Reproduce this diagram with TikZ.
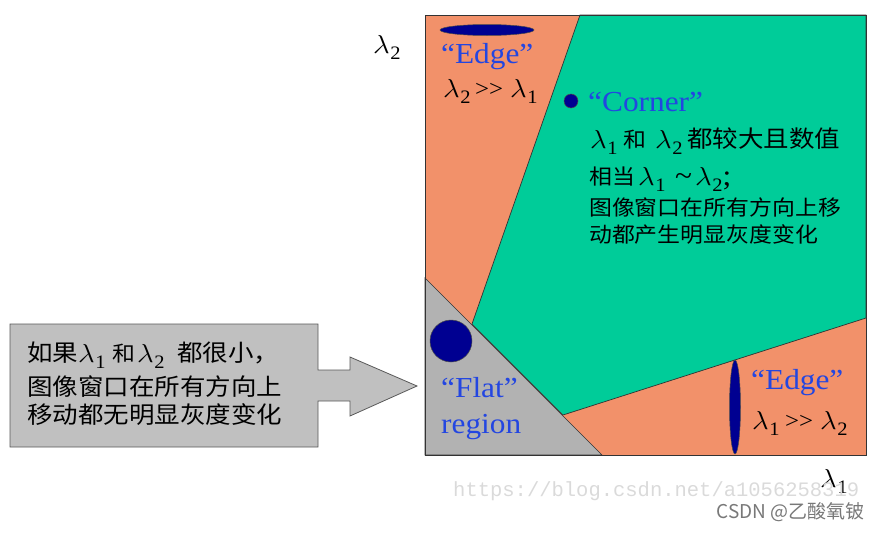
\RequirePackage{fix-cm}
\documentclass[tikz,border=0pt]{standalone}
\usepackage{fontspec}
\usepackage{graphicx}
\usetikzlibrary{shapes.geometric}
\setmainfont{Liberation Serif}
\newfontfamily\lserif[FakeStretch=1.08]{Liberation Serif}
\newfontfamily\cjk[FakeStretch=1.09]{Noto Sans CJK SC}
\newfontfamily\cjkplain{Noto Sans CJK SC}
\newfontfamily\wmmono{Liberation Mono}
\newcommand\lam[1]{\mbox{\fontsize{26}{30}\selectfont\scalebox{1.12}[1]{$\lambda$}\kern0.5pt\raisebox{-6pt}{\lserif\fontsize{19}{22}\selectfont #1}}}
\newcommand\gtgt{\lserif\fontsize{23}{28}\selectfont >\kern0pt>}
\definecolor{orng}{RGB}{242,145,106}
\definecolor{grn}{RGB}{0,204,153}
\definecolor{flatgray}{RGB}{178,178,178}
\definecolor{boxgray}{RGB}{192,192,192}
\definecolor{navy}{RGB}{0,0,145}
\definecolor{lblue}{RGB}{35,70,225}
\definecolor{wmlight}{RGB}{218,218,218}
\definecolor{wmdark}{RGB}{120,120,120}
\tikzset{
  region/.style={draw=black!80, line width=0.7pt},
  blob/.style={fill=navy, draw=black!70, line width=0.5pt},
  txt/.style={inner sep=0pt, anchor=base west, font=\lserif\fontsize{29}{34}\selectfont},
  bluetxt/.style={txt, text=lblue},
  cn/.style={inner sep=0pt, anchor=base west, font=\cjk\fontsize{23.4}{28}\selectfont},
  cnsmall/.style={inner sep=0pt, anchor=base west, font=\cjk\fontsize{21}{25}\selectfont}
}
\begin{document}
\begin{tikzpicture}[x=1pt,y=-1pt]
\useasboundingbox (0,0) rectangle (881,538);
% main square corners
\coordinate (TL) at (425,15);
\coordinate (TR) at (866,15);
\coordinate (BR) at (866,455);
\coordinate (BL) at (425,455);
\coordinate (g1) at (580,15);
\coordinate (g2) at (866,318);
\coordinate (g3) at (563,415);
\coordinate (g4) at (472,324);
\coordinate (f1) at (425,278);
\coordinate (f2) at (602,455);
% regions
\fill[orng] (TL) rectangle (BR);
\filldraw[fill=grn, region] (g1) -- (TR) -- (g2) -- (g3) -- (g4) -- cycle;
\filldraw[fill=flatgray, region] (f1) -- (BL) -- (f2) -- cycle;
\draw[region] (TL) rectangle (BR);
% blobs
\node[blob, ellipse, minimum width=94pt, minimum height=11pt, inner sep=0pt] (eh) at (487,30) {};
\node[blob, circle, minimum size=14pt, inner sep=0pt] (cdot) at (571,101) {};
\node[blob, circle, minimum size=42pt, inner sep=0pt] (fdot) at (451,341) {};
\node[blob, ellipse, minimum width=11pt, minimum height=94pt, inner sep=0pt] (ev) at (735,407) {};
% axis labels
\node[txt] (l2) at (373,53) {\lam{2}};
\node[txt] (l1) at (820,487) {\lam{1}};
% top-left edge
\node[bluetxt] (edge1) at (441,63) {“Edge”};
\node[txt] (e1a) at (443,97) {\lam{2}};
\node[txt] (e1b) at (475,96) {\gtgt};
\node[txt] (e1c) at (510,97) {\lam{1}};
% corner
\node[bluetxt] (corner) at (588,111) {“Corner”};
\node[txt] (c1a) at (590,148) {\lam{1}};
\node[cn, font=\cjk\fontsize{21}{25}\selectfont] (c1b) at (623,147) {和};
\node[txt] (c1c) at (655,148) {\lam{2}};
\node[cn] (c1d) at (687,147) {都较大且数值};
\node[cnsmall] (c2a) at (589,184) {相当};
\node[txt] (c2b) at (638,185) {\lam{1}};
\node[txt] (c2c) at (675,185) {\textasciitilde};
\node[txt] (c2d) at (695,185) {\lam{2};};
\node[cnsmall] (c3) at (589,215) {图像窗口在所有方向上移};
\node[cnsmall] (c4) at (589,242) {动都产生明显灰度变化};
% flat
\node[bluetxt] (flat) at (441,397) {“Flat”};
\node[bluetxt] (region) at (441,433) {region};
% bottom-right edge
\node[bluetxt] (edge2) at (751,389) {“Edge”};
\node[txt] (e2a) at (752,429) {\lam{1}};
\node[txt] (e2b) at (785,428) {\gtgt};
\node[txt] (e2c) at (820,429) {\lam{2}};
% left callout box with arrow
\coordinate (b1) at (10,324);
\coordinate (b2) at (318,324);
\coordinate (b3) at (318,370);
\coordinate (b4) at (350,370);
\coordinate (b5) at (350,357);
\coordinate (tip) at (417,386);
\coordinate (b6) at (350,416);
\coordinate (b7) at (350,401);
\coordinate (b8) at (318,401);
\coordinate (b9) at (318,447);
\coordinate (b10) at (10,447);
\filldraw[fill=boxgray, draw=black!65, line width=0.8pt] (b1) -- (b2) -- (b3) -- (b4) -- (b5) -- (tip) -- (b6) -- (b7) -- (b8) -- (b9) -- (b10) -- cycle;
\node[cn] (k1a) at (27,361) {如果};
\node[txt] (k1b) at (78,362) {\lam{1}};
\node[cn, font=\cjk\fontsize{21}{25}\selectfont] (k1c) at (112,361) {和};
\node[txt] (k1d) at (137,362) {\lam{2}};
\node[cn] (k1e) at (177,361) {都很小，};
\node[cn] (k2) at (27,395) {图像窗口在所有方向上};
\node[cn] (k3) at (27,423) {移动都无明显灰度变化};
% watermark
\node[inner sep=0pt, anchor=base west, text=wmlight, font=\wmmono\fontsize{20.5}{24}\selectfont] (wm1) at (453,496) {https://blog.csdn.net/a1056258319};
\node[inner sep=0pt, anchor=base east, text=wmdark, font=\cjkplain\fontsize{19}{22}\selectfont] (wm2) at (865,518) {CSDN @乙酸氧铍};
\end{tikzpicture}
\end{document}
